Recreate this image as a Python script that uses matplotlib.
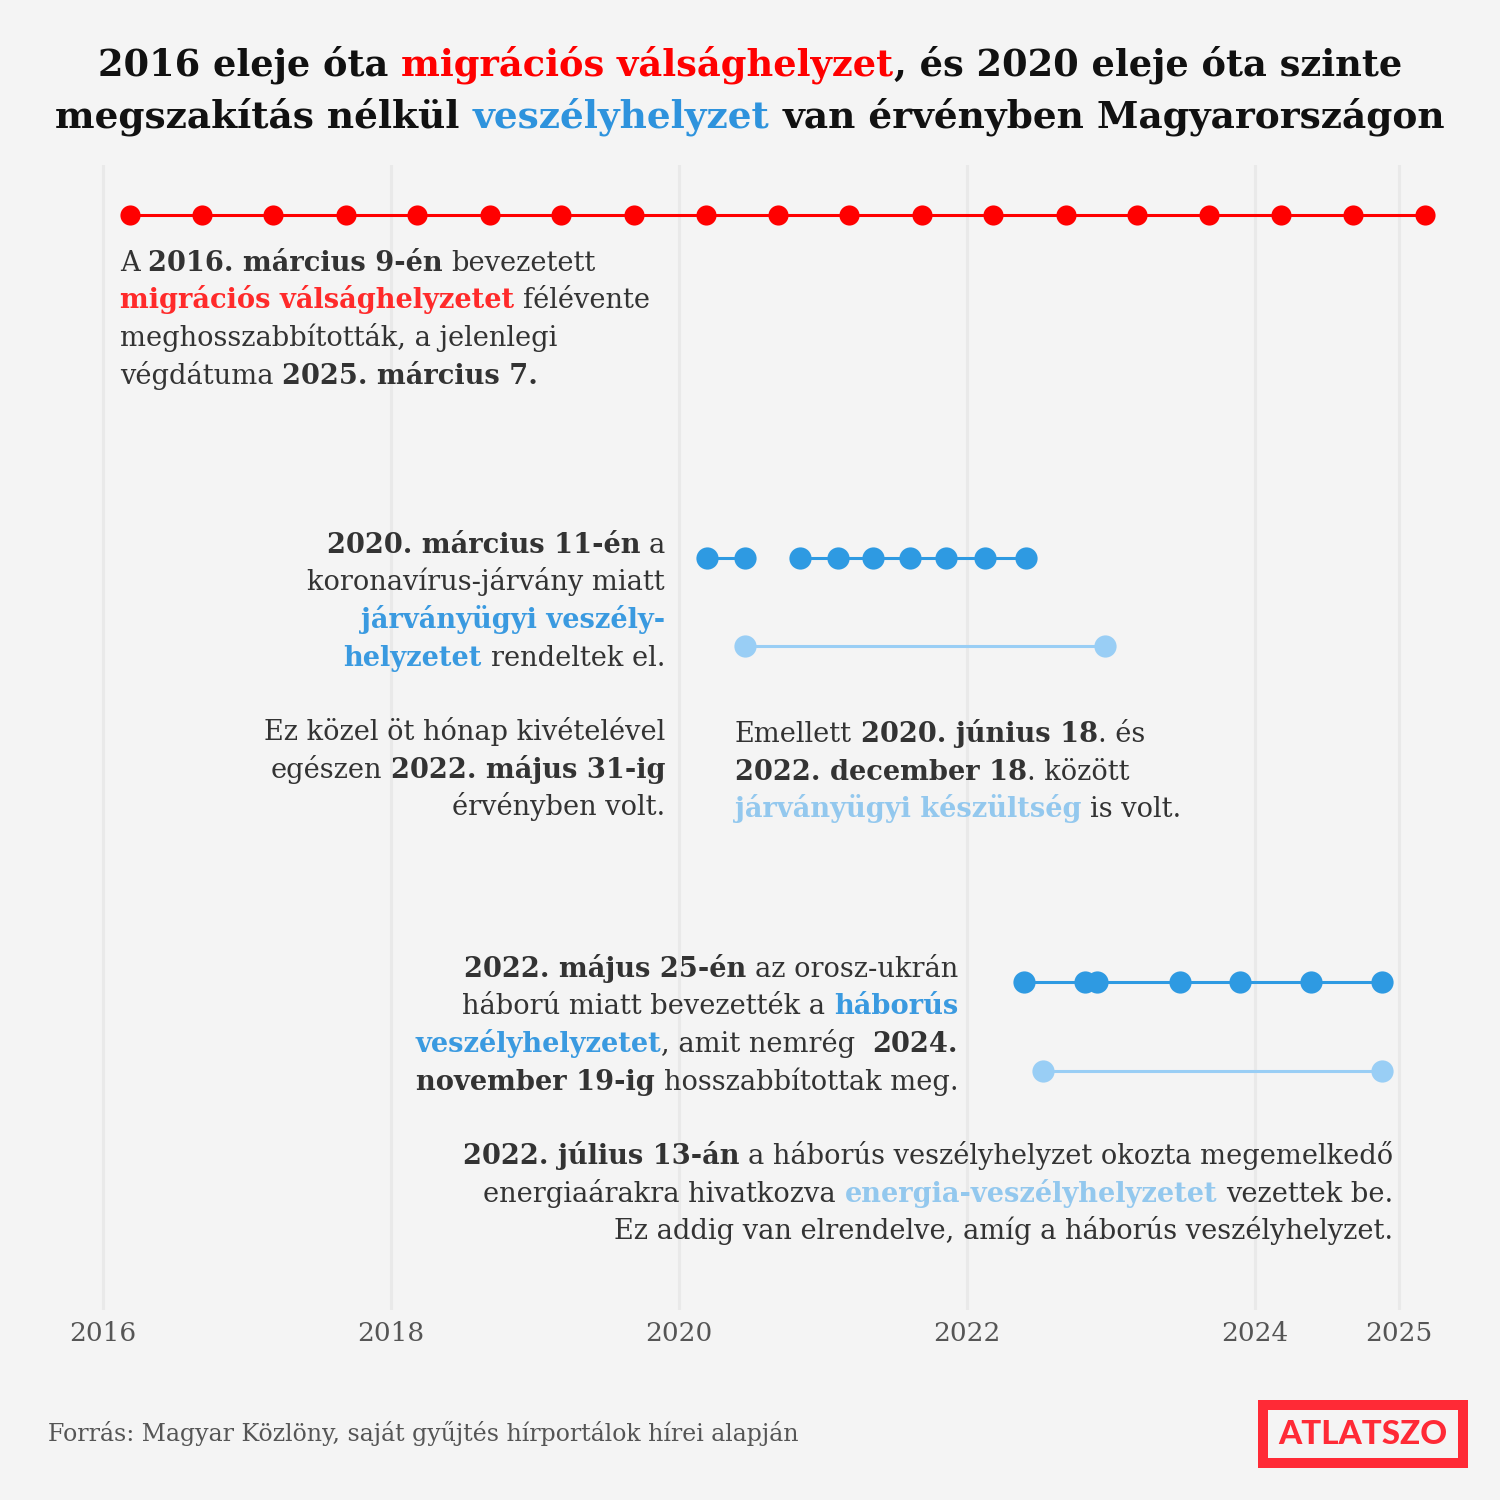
import matplotlib
matplotlib.use("Agg")
import matplotlib.pyplot as plt
import pandas as pd
from matplotlib.patches import Rectangle

# === Adatok: a rendeletek meghosszabbításainak dátumai ===
migration_dates = ["2016-03-09", "2016-09-09", "2017-03-09", "2017-09-09", "2018-03-09",
                   "2018-09-09", "2019-03-09", "2019-09-09", "2020-03-09", "2020-09-09",
                   "2021-03-09", "2021-09-09", "2022-03-09", "2022-09-09", "2023-03-07",
                   "2023-09-07", "2024-03-07", "2024-09-07", "2025-03-07"]
pandemic_dates_1 = ["2020-03-11", "2020-06-18"]
pandemic_dates_2 = ["2020-11-04", "2021-02-08", "2021-05-07", "2021-08-09",
                    "2021-11-10", "2022-02-15", "2022-05-31"]
alert_dates = ["2020-06-18", "2022-12-18"]
war_dates = ["2022-05-25", "2022-10-28", "2022-11-27", "2023-06-24",
             "2023-11-23", "2024-05-22", "2024-11-19"]
energy_dates = ["2022-07-13", "2024-11-19"]
year_ticks = [2016, 2018, 2020, 2022, 2024, 2025]

W = H = 1500
BG = "#f4f4f4"
RED = "#ff0000"
RED_TXT = "#ff2a2a"
BLUE = "#2e9ae2"
LIGHT = "#99cef5"
TXT = "#333333"
FONT = "DejaVu Serif"
BODY = 19.6

# sávok függőleges helye (pixel)
ROW = {"migration": 215, "pandemic": 558, "alert": 646, "war": 982, "energy": 1071}


def decimal_year(dates):
    d = pd.to_datetime(pd.Series(dates))
    start = pd.to_datetime(d.dt.year.astype(str) + "-01-01")
    end = pd.to_datetime((d.dt.year + 1).astype(str) + "-01-01")
    return (d.dt.year + (d - start) / (end - start)).to_numpy()


fig = plt.figure(figsize=(15, 15), dpi=100, facecolor=BG)
renderer = fig.canvas.get_renderer()

# === Tengely ===
ax = fig.add_axes([0, 1 - 1310 / H, 1, (1310 - 165) / H])
ax.set_facecolor("none")
ax.set_xlim(2016 - 103 / 144, 2016 + (W - 103) / 144)
ax.set_ylim(1310, 165)
for s in ax.spines.values():
    s.set_visible(False)
ax.set_yticks([])
ax.set_xticks(year_ticks)
ax.set_xticklabels([str(y) for y in year_ticks], family=FONT, fontsize=19, color="#555555")
ax.tick_params(axis="x", length=0, pad=8)
ax.grid(axis="x", color="#e9e9e9", linewidth=2.2)
ax.set_axisbelow(True)


def timeline(dates, y, color, ms):
    x = decimal_year(dates)
    ax.plot(x, [y] * len(x), color=color, lw=2.2, marker="o", ms=ms,
            markeredgewidth=0, clip_on=False, zorder=3)


timeline(migration_dates, ROW["migration"], RED, 14.5)
timeline(pandemic_dates_1, ROW["pandemic"], BLUE, 16)
timeline(pandemic_dates_2, ROW["pandemic"], BLUE, 16)
timeline(alert_dates, ROW["alert"], LIGHT, 16)
timeline(war_dates, ROW["war"], BLUE, 16)
timeline(energy_dates, ROW["energy"], LIGHT, 16)


# === Többszínű szövegsorok ===
def measure(s, size, weight, family=FONT):
    t = fig.text(0, 0, "|" + s + "|", fontsize=size, fontweight=weight, family=family)
    w1 = t.get_window_extent(renderer).width
    t.set_text("||")
    w2 = t.get_window_extent(renderer).width
    t.remove()
    return w1 - w2


def rich_line(x, y, segs, ha="left", size=BODY):
    widths = [measure(s, size, w) for s, c, w in segs]
    total = sum(widths)
    pos = x if ha == "left" else (x - total if ha == "right" else x - total / 2)
    for (s, c, w), wd in zip(segs, widths):
        lead = len(s) - len(s.lstrip(" "))
        core = s.strip(" ")
        off = measure(" " * lead, size, w) if lead else 0
        fig.text((pos + off) / W, 1 - y / H, core, color=c, fontweight=w,
                 fontsize=size, family=FONT, ha="left", va="baseline")
        pos += wd


def rich_block(x, ys, lines, ha="left", size=BODY):
    for y, segs in zip(ys, lines):
        rich_line(x, y, segs, ha, size)


n, b = "normal", "bold"

# cím (a szélességhez igazított betűmérettel)
title1 = [("2016 eleje óta ", "#111111", b), ("migrációs válsághelyzet", RED, b),
          (", és 2020 eleje óta szinte", "#111111", b)]
title2 = [("megszakítás nélkül ", "#111111", b), ("veszélyhelyzet", "#2e93dd", b),
          (" van érvényben Magyarországon", "#111111", b)]
for y, line, target in [(75, title1, 1305), (128, title2, 1396)]:
    tw = sum(measure(s, 10, w) for s, c, w in line)
    rich_line(750, y, line, ha="center", size=10 * target / tw)

rich_block(120, [271, 308.5, 346, 383.5], [
    [("A ", TXT, n), ("2016. március 9-én", TXT, b), (" bevezetett", TXT, n)],
    [("migrációs válsághelyzetet", RED_TXT, b), (" félévente", TXT, n)],
    [("meghosszabbították, a jelenlegi", TXT, n)],
    [("végdátuma ", TXT, n), ("2025. március 7.", TXT, b)],
])

rich_block(665, [553, 590.5, 628, 665.5], [
    [("2020. március 11-én", TXT, b), (" a", TXT, n)],
    [("koronavírus-járvány miatt", TXT, n)],
    [("járványügyi veszély-", "#3a9ae0", b)],
    [("helyzetet", "#3a9ae0", b), (" rendeltek el.", TXT, n)],
], ha="right")

rich_block(665, [740, 778, 815], [
    [("Ez közel öt hónap kivételével", TXT, n)],
    [("egészen ", TXT, n), ("2022. május 31-ig", TXT, b)],
    [("érvényben volt.", TXT, n)],
], ha="right")

rich_block(735, [742, 780, 817], [
    [("Emellett ", TXT, n), ("2020. június 18", TXT, b), (". és", TXT, n)],
    [("2022. december 18", TXT, b), (". között", TXT, n)],
    [("járványügyi készültség", "#93c8ee", b), (" is volt.", TXT, n)],
])

rich_block(958, [977, 1014.5, 1052, 1089.5], [
    [("2022. május 25-én", TXT, b), (" az orosz-ukrán", TXT, n)],
    [("háború miatt bevezették a ", TXT, n), ("háborús", "#3a9ae0", b)],
    [("veszélyhelyzetet", "#3a9ae0", b), (", amit nemrég  ", TXT, n), ("2024.", TXT, b)],
    [("november 19-ig", TXT, b), (" hosszabbítottak meg.", TXT, n)],
], ha="right")

rich_block(1393, [1164, 1201.5, 1239], [
    [("2022. július 13-án", TXT, b), (" a háborús veszélyhelyzet okozta megemelkedő", TXT, n)],
    [("energiaárakra hivatkozva ", TXT, n), ("energia-veszélyhelyzetet", "#93c8ee", b),
     (" vezettek be.", TXT, n)],
    [("Ez addig van elrendelve, amíg a háborús veszélyhelyzet.", TXT, n)],
], ha="right")

# forrás
fig.text(48 / W, 1 - 1441 / H, "Forrás: Magyar Közlöny, saját gyűjtés hírportálok hírei alapján",
         family=FONT, fontsize=17, color="#555555", ha="left", va="baseline")

# logó
fig.patches.append(Rectangle((1263 / W, 1 - 1463 / H), 200 / W, 58 / H,
                             transform=fig.transFigure, fill=False,
                             edgecolor="#ff2a36", lw=7.2))
logo_font = ["Lato", "DejaVu Sans"]
lw_ = measure("ATLATSZO", 10, "black", family=logo_font)
fig.text(1363 / W, 1 - 1434 / H, "ATLATSZO", family=logo_font, fontweight="black",
         fontsize=10 * 170 / lw_, color="#ff2a36", ha="center", va="center")

fig.savefig("out.png", dpi=100, facecolor=BG)
